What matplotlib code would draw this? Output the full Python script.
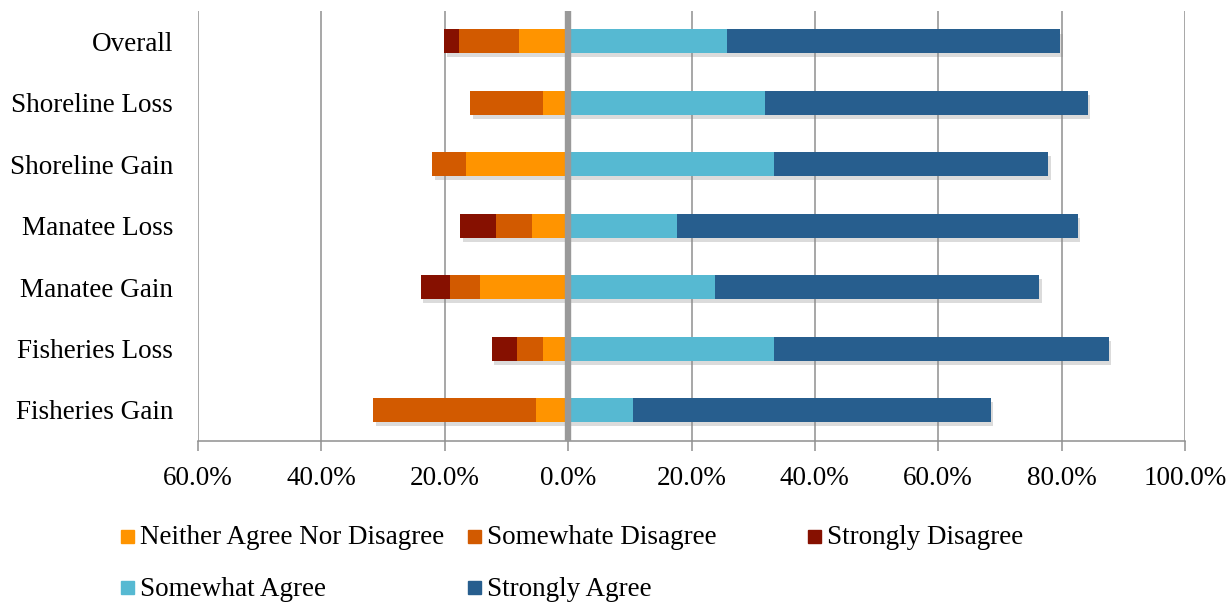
import matplotlib
matplotlib.use("Agg")
import matplotlib.pyplot as plt
import matplotlib.patheffects as pe
from matplotlib.patches import Rectangle
import numpy as np

categories = ["Overall", "Shoreline Loss", "Shoreline Gain", "Manatee Loss",
              "Manatee Gain", "Fisheries Loss", "Fisheries Gain"]

# percentages (disagree side plotted to the left of zero)
neither = [8.0, 4.0, 16.6, 5.8, 14.3, 4.0, 5.2]
somewhat_disagree = [9.7, 11.9, 5.5, 5.9, 4.8, 4.3, 26.4]
strongly_disagree = [2.4, 0.0, 0.0, 5.8, 4.8, 4.1, 0.0]
somewhat_agree = [25.8, 31.9, 33.4, 17.7, 23.8, 33.4, 10.5]
strongly_agree = [54.0, 52.3, 44.4, 64.9, 52.5, 54.2, 58.0]

tick_values = [-60, -40, -20, 0, 20, 40, 60, 80, 100]
tick_labels = ["60.0%", "40.0%", "20.0%", "0.0%", "20.0%", "40.0%",
               "60.0%", "80.0%", "100.0%"]

colors = {
    "Neither Agree Nor Disagree": "#FF9400",
    "Somewhate Disagree": "#D25A00",
    "Strongly Disagree": "#861000",
    "Somewhat Agree": "#56B9D2",
    "Strongly Agree": "#275E8E",
}

plt.rcParams["font.family"] = ["Liberation Serif", "DejaVu Serif"]
FS = 19.5

W, H = 1231, 602
fig = plt.figure(figsize=(W / 100, H / 100), dpi=100)
ax = fig.add_axes([198 / W, 1 - 440.7 / H, (1185 - 198) / W, (440.7 - 10.6) / H])

y = np.arange(len(categories))
bh = 0.39

neither_a = np.array(neither)
somd_a = np.array(somewhat_disagree)
sd_a = np.array(strongly_disagree)
soma_a = np.array(somewhat_agree)
sa_a = np.array(strongly_agree)

# soft drop shadow behind each side's full stack
shadow_only = [pe.SimplePatchShadow(offset=(2, -3), shadow_rgbFace="#888888", alpha=0.3)]
left_total = -(neither_a + somd_a + sd_a)
right_total = soma_a + sa_a
for tot in (left_total, right_total):
    sb = ax.barh(y, tot, height=bh, color="white", edgecolor="none", zorder=2)
    for b in sb:
        b.set_path_effects(shadow_only)

segments = [
    ("Neither Agree Nor Disagree", -neither_a, np.zeros_like(neither_a)),
    ("Somewhate Disagree", -somd_a, -neither_a),
    ("Strongly Disagree", -sd_a, -(neither_a + somd_a)),
    ("Somewhat Agree", soma_a, np.zeros_like(soma_a)),
    ("Strongly Agree", sa_a, soma_a),
]
for name, width, left in segments:
    ax.barh(y, width, left=left, height=bh, color=colors[name],
            edgecolor="none", zorder=3)

ax.set_xlim(-60, 100)
ax.set_ylim(len(categories) - 0.5, -0.5)
ax.set_xticks(tick_values)
ax.set_xticklabels(tick_labels, fontsize=FS)
ax.set_yticks(y)
ax.set_yticklabels(categories, fontsize=FS)
ax.tick_params(axis="y", length=0, pad=18)
ax.tick_params(axis="x", length=7, width=1.1, color="#8f8f8f", pad=11)

ax.grid(axis="x", color="#8f8f8f", linewidth=1.1, zorder=0)
ax.set_axisbelow(True)
for s in ["top", "right", "left"]:
    ax.spines[s].set_visible(False)
ax.spines["bottom"].set_color("#8f8f8f")
ax.spines["bottom"].set_linewidth(1.1)
ax.axvline(0, color="#999999", linewidth=4.6, zorder=5)

# legend entries laid out in two rows
legend_items = [
    ("Neither Agree Nor Disagree", 121, 538),
    ("Somewhate Disagree", 468, 538),
    ("Strongly Disagree", 808, 538),
    ("Somewhat Agree", 121, 589),
    ("Strongly Agree", 468, 589),
]
for name, px, py in legend_items:
    fig.patches.append(Rectangle((px / W, 1 - (py + 5) / H), 13 / W, 13 / H,
                                 transform=fig.transFigure, color=colors[name]))
    fig.text((px + 19) / W, 1 - py / H, name, fontsize=FS, va="center", ha="left")

fig.savefig("out.png", dpi=100)
